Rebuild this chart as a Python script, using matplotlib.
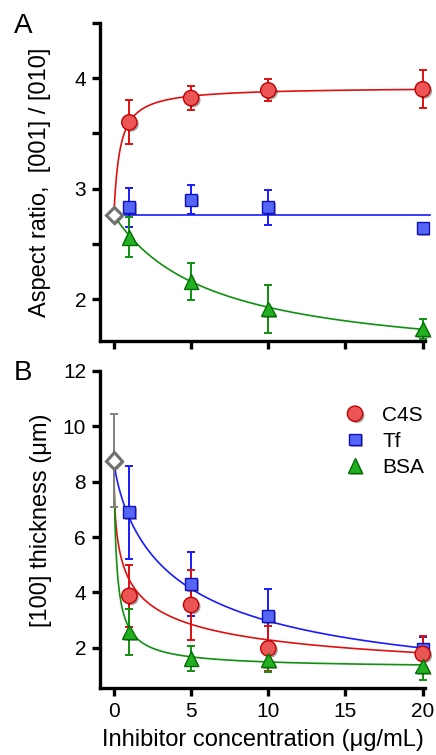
import matplotlib
matplotlib.use("Agg")
import matplotlib.pyplot as plt
import matplotlib.patheffects as pe
from matplotlib.lines import Line2D
import numpy as np

plt.rcParams["font.family"] = ["Liberation Sans", "DejaVu Sans"]

# --- data ---------------------------------------------------------------
conc = [1, 5, 10, 20]
series = ["C4S", "Tf", "BSA"]

# panel A: aspect ratio [001]/[010]
a_control = 2.76
a_c4s = [3.60, 3.82, 3.89, 3.90]
a_c4s_err = [0.20, 0.11, 0.10, 0.17]
a_tf = [2.83, 2.90, 2.83, 2.64]
a_tf_err = [0.18, 0.13, 0.16, 0.03]
a_bsa = [2.56, 2.16, 1.91, 1.73]
a_bsa_err = [0.18, 0.17, 0.22, 0.09]

# panel B: [100] thickness (um)
b_control = 8.76
b_control_err = 1.67
b_c4s = [3.88, 3.55, 1.98, 1.78]
b_c4s_err = [1.12, 1.25, 0.80, 0.66]
b_tf = [6.90, 4.30, 3.15, 1.98]
b_tf_err = [1.68, 1.15, 0.98, 0.42]
b_bsa = [2.57, 1.62, 1.56, 1.35]
b_bsa_err = [0.83, 0.46, 0.44, 0.51]

# fitted curves: (y at 0, plateau, half-point K, exponent n)
a_fit_c4s = (2.76, 3.92, 0.38, 1.0)
a_fit_tf = 2.76
a_fit_bsa = (2.76, 1.40, 6.3, 1.0)
b_fit_c4s = (8.76, 0.40, 0.89, 0.51)
b_fit_tf = (8.76, 0.00, 4.34, 0.80)
b_fit_bsa = (8.76, 1.25, 0.19, 0.86)

# --- styles ---------------------------------------------------------------
RED, BLUE, GREEN, GRAY = "#e01010", "#1a1aff", "#109010", "#808080"
styles = {
    "C4S": dict(marker="o", ms=11, mfc="#ec5555", mec="#c00000", ecolor=RED),
    "Tf": dict(marker="s", ms=8.5, mfc="#5565f5", mec="#1010c0", ecolor=BLUE),
    "BSA": dict(marker="^", ms=10.5, mfc="#22b022", mec="#007000", ecolor=GREEN),
}
shadow = [pe.SimplePatchShadow(offset=(1.3, -1.3), shadow_rgbFace="k", alpha=0.35), pe.Normal()]


def hill(params, x):
    y0, yinf, k, n = params
    return yinf + (y0 - yinf) / (1 + (x / k) ** n)


def draw_points(ax, y, yerr, name):
    st = styles[name]
    ax.errorbar(conc, y, yerr=yerr, fmt="none", ecolor=st["ecolor"],
                elinewidth=1.4, capsize=3.2, capthick=1.4, zorder=3, clip_on=False)
    ax.plot(conc, y, ls="none", marker=st["marker"], ms=st["ms"], mfc=st["mfc"],
            mec=st["mec"], mew=1.0, zorder=4, clip_on=False, path_effects=shadow)


def style_axes(ax):
    for side in ("top", "right"):
        ax.spines[side].set_visible(False)
    for side in ("left", "bottom"):
        ax.spines[side].set_linewidth(2.4)
    ax.tick_params(which="both", direction="out", length=6, width=2.4,
                   labelsize=15, pad=4)
    ax.set_xlim(-0.9, 20.15)
    ax.set_xticks([0, 5, 10, 15, 20])


fig = plt.figure(figsize=(4.36, 7.55), dpi=100)
ax_a = fig.add_axes([100 / 436, 1 - 341 / 755, 325 / 436, 318 / 755])
ax_b = fig.add_axes([100 / 436, 1 - 688 / 755, 325 / 436, 317 / 755])

xs = np.linspace(0, 20, 800)

# --- panel A ---------------------------------------------------------------
style_axes(ax_a)
ax_a.set_ylim(1.62, 4.5)
ax_a.set_yticks([2, 3, 4])
ax_a.set_yticks([2.5, 3.5, 4.5], minor=True)
ax_a.tick_params(axis="x", labelbottom=False)
ax_a.plot(xs, hill(a_fit_c4s, xs), color=RED, lw=1.2, zorder=2)
ax_a.plot([0, 20.5], [a_fit_tf, a_fit_tf], color=BLUE, lw=1.2, zorder=2, clip_on=False)
ax_a.plot(xs, hill(a_fit_bsa, xs), color=GREEN, lw=1.2, zorder=2)
draw_points(ax_a, a_c4s, a_c4s_err, "C4S")
draw_points(ax_a, a_tf, a_tf_err, "Tf")
draw_points(ax_a, a_bsa, a_bsa_err, "BSA")
ax_a.plot([0], [a_control], ls="none", marker="D", ms=8.5, mfc="white", mec="#707070",
          mew=2.2, zorder=5, clip_on=False, path_effects=shadow)
ax_a.set_ylabel("Aspect ratio,  [001] / [010]", fontsize=17)
ax_a.yaxis.set_label_coords(-0.151, 0.5)

# --- panel B ---------------------------------------------------------------
style_axes(ax_b)
ax_b.set_ylim(0.55, 12)
ax_b.set_yticks([2, 4, 6, 8, 10, 12])
ax_b.set_yticklabels(["2", "4", "6", "8", "10", "12"])
ax_b.plot(xs, hill(b_fit_tf, xs), color=BLUE, lw=1.2, zorder=2)
ax_b.plot(xs, hill(b_fit_c4s, xs), color=RED, lw=1.2, zorder=2)
ax_b.plot(xs, hill(b_fit_bsa, xs), color=GREEN, lw=1.2, zorder=2)
draw_points(ax_b, b_tf, b_tf_err, "Tf")
draw_points(ax_b, b_c4s, b_c4s_err, "C4S")
draw_points(ax_b, b_bsa, b_bsa_err, "BSA")
ax_b.errorbar([0], [b_control], yerr=[b_control_err], fmt="none", ecolor=GRAY,
              elinewidth=1.4, capsize=3.2, capthick=1.4, zorder=3)
ax_b.plot([0], [b_control], ls="none", marker="D", ms=8.5, mfc="white", mec="#707070",
          mew=2.2, zorder=5, clip_on=False, path_effects=shadow)
ax_b.set_ylabel("[100] thickness (\u03bcm)", fontsize=17)
ax_b.yaxis.set_label_coords(-0.148, 0.53)
ax_b.set_xlabel("Inhibitor concentration (\u03bcg/mL)", fontsize=17)
ax_b.xaxis.set_label_coords(0.5, -0.13)

handles = [Line2D([], [], ls="none", marker=styles[s]["marker"], ms=styles[s]["ms"],
                  mfc=styles[s]["mfc"], mec=styles[s]["mec"], mew=1.0,
                  path_effects=shadow) for s in series]
ax_b.legend(handles, series, loc="upper left", bbox_to_anchor=(344.6 / 436, 1 - 406 / 755),
            bbox_transform=fig.transFigure, frameon=False, fontsize=15,
            handlelength=1.0, handletextpad=0.8, labelspacing=0.33,
            borderpad=0, borderaxespad=0)

fig.text(14 / 436, 1 - 33 / 755, "A", fontsize=20, va="baseline")
fig.text(14 / 436, 1 - 380 / 755, "B", fontsize=20, va="baseline")

fig.savefig("out.png", dpi=100)
